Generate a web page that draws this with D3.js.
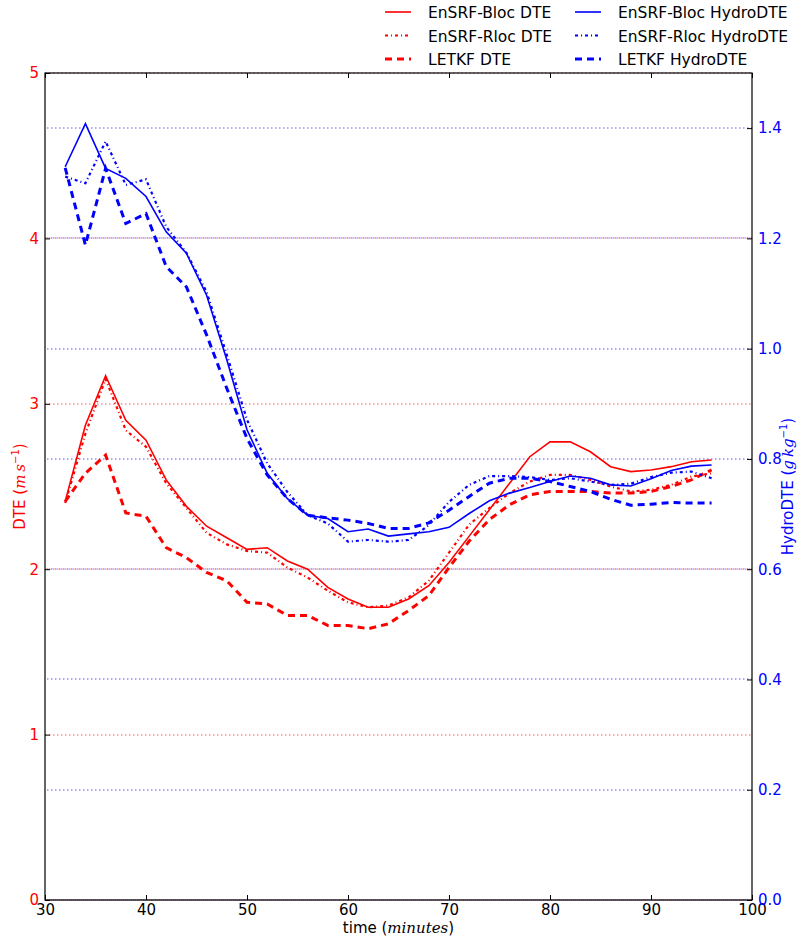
<!DOCTYPE html>
<html>
<head>
<meta charset="utf-8">
<script src="https://cdn.jsdelivr.net/npm/d3@7"></script>
<style>
  body { margin: 0; background: #fff; }
  text { font-family: "DejaVu Sans", sans-serif; }
</style>
</head>
<body>
<div id="container"></div>
<script>
// time in minutes
const times = [32, 34, 36, 38, 40, 42, 44, 46, 48, 50, 52, 54, 56, 58, 60, 62, 64,
               66, 68, 70, 72, 74, 76, 78, 80, 82, 84, 86, 88, 90, 92, 94, 96];

// DTE (m s^-1), left axis
const blocDTE = [2.41, 2.87, 3.17, 2.90, 2.78, 2.54, 2.38, 2.26, 2.19, 2.12, 2.13, 2.05, 2.00, 1.89, 1.82, 1.77, 1.77,
                 1.82, 1.90, 2.04, 2.20, 2.36, 2.52, 2.68, 2.77, 2.77, 2.71, 2.62, 2.59, 2.60, 2.62, 2.65, 2.66];
const rlocDTE = [2.40, 2.82, 3.15, 2.84, 2.74, 2.52, 2.37, 2.22, 2.15, 2.11, 2.10, 2.01, 1.95, 1.87, 1.80, 1.77, 1.78,
                 1.83, 1.93, 2.10, 2.27, 2.37, 2.46, 2.53, 2.57, 2.57, 2.54, 2.50, 2.47, 2.48, 2.51, 2.56, 2.58];
const letkfDTE = [2.41, 2.58, 2.69, 2.34, 2.32, 2.13, 2.07, 1.98, 1.93, 1.80, 1.79, 1.72, 1.72, 1.66, 1.66, 1.64, 1.67,
                  1.75, 1.84, 2.01, 2.17, 2.30, 2.39, 2.45, 2.47, 2.47, 2.47, 2.46, 2.46, 2.47, 2.50, 2.54, 2.60];

// HydroDTE (g kg^-1), right axis
const blocHydro = [1.330, 1.408, 1.327, 1.309, 1.276, 1.212, 1.173, 1.097, 0.980, 0.853, 0.774, 0.728, 0.698, 0.692, 0.668, 0.673, 0.660,
                   0.664, 0.668, 0.676, 0.701, 0.724, 0.738, 0.748, 0.759, 0.769, 0.765, 0.753, 0.751, 0.764, 0.779, 0.787, 0.789];
const rlocHydro = [1.312, 1.300, 1.376, 1.297, 1.307, 1.221, 1.174, 1.103, 0.989, 0.871, 0.792, 0.740, 0.698, 0.683, 0.650, 0.653, 0.650,
                   0.653, 0.680, 0.722, 0.753, 0.769, 0.769, 0.767, 0.762, 0.765, 0.759, 0.753, 0.755, 0.767, 0.775, 0.777, 0.765];
const letkfHydro = [1.328, 1.188, 1.327, 1.227, 1.245, 1.149, 1.112, 1.025, 0.928, 0.837, 0.771, 0.728, 0.698, 0.693, 0.689, 0.683, 0.674,
                    0.674, 0.684, 0.707, 0.732, 0.756, 0.765, 0.765, 0.759, 0.750, 0.741, 0.727, 0.716, 0.718, 0.721, 0.720, 0.720];

const xTicks = [30, 40, 50, 60, 70, 80, 90, 100];
const leftTicks = [0, 1, 2, 3, 4, 5];
const rightTicks = [0.0, 0.2, 0.4, 0.6, 0.8, 1.0, 1.2, 1.4];

const width = 800, height = 936;
const margin = { top: 73, right: 48, bottom: 36, left: 45 };

const svg = d3.select("#container").append("svg")
    .attr("width", width)
    .attr("height", height);

const x = d3.scaleLinear().domain([30, 100]).range([margin.left, width - margin.right]);
const yL = d3.scaleLinear().domain([0, 5]).range([height - margin.bottom, margin.top]);
const yR = d3.scaleLinear().domain([0, 1.5]).range([height - margin.bottom, margin.top]);

// grid lines (dotted), red for left axis, blue for right axis
function drawGrid(ticks, scale, color, offset) {
    svg.append("g")
        .selectAll("line")
        .data(ticks)
        .join("line")
        .attr("x1", margin.left).attr("x2", width - margin.right)
        .attr("y1", d => Math.round(scale(d))).attr("y2", d => Math.round(scale(d)))
        .attr("stroke", color).attr("stroke-width", 1.1)
        .attr("stroke-opacity", 0.75)
        .attr("stroke-dasharray", "1.5,2.5").attr("stroke-dashoffset", offset);
}
drawGrid(leftTicks, yL, "#ff2020", 0);
drawGrid(rightTicks, yR, "#2020ff", 2);

// series
const series = [
    { name: "EnSRF-Bloc DTE", values: blocDTE, y: yL, color: "red", width: 1.6, dash: null },
    { name: "EnSRF-Rloc DTE", values: rlocDTE, y: yL, color: "red", width: 2.2, dash: "3,3,1,3" },
    { name: "LETKF DTE", values: letkfDTE, y: yL, color: "red", width: 3, dash: "7,5" },
    { name: "EnSRF-Bloc HydroDTE", values: blocHydro, y: yR, color: "blue", width: 1.6, dash: null },
    { name: "EnSRF-Rloc HydroDTE", values: rlocHydro, y: yR, color: "blue", width: 2.2, dash: "3,3,1,3" },
    { name: "LETKF HydroDTE", values: letkfHydro, y: yR, color: "blue", width: 3, dash: "7,5" }
];

series.forEach(s => {
    const line = d3.line()
        .x((d, i) => x(times[i]))
        .y(d => s.y(d));
    svg.append("path")
        .datum(s.values)
        .attr("fill", "none")
        .attr("stroke", s.color)
        .attr("stroke-width", s.width)
        .attr("stroke-dasharray", s.dash)
        .attr("d", line);
});

// frame
svg.append("rect")
    .attr("x", margin.left).attr("y", margin.top)
    .attr("width", width - margin.left - margin.right)
    .attr("height", height - margin.top - margin.bottom)
    .attr("fill", "none").attr("stroke", "#000").attr("stroke-width", 1.2);

// axes with inward ticks
const xAxis = svg.append("g")
    .attr("transform", `translate(0,${height - margin.bottom})`)
    .call(d3.axisBottom(x).tickValues(xTicks).tickSize(-5).tickPadding(4).tickFormat(d3.format("d")));
const xTop = svg.append("g")
    .attr("transform", `translate(0,${margin.top})`)
    .call(d3.axisTop(x).tickValues(xTicks).tickSize(-5).tickFormat(""));
const yLeftAxis = svg.append("g")
    .attr("transform", `translate(${margin.left},0)`)
    .call(d3.axisLeft(yL).tickValues(leftTicks).tickSize(-5).tickPadding(6).tickFormat(d3.format("d")));
const yRightAxis = svg.append("g")
    .attr("transform", `translate(${width - margin.right},0)`)
    .call(d3.axisRight(yR).tickValues(rightTicks).tickSize(-5).tickPadding(6).tickFormat(d3.format(".1f")));

[xAxis, xTop, yLeftAxis, yRightAxis].forEach(g => {
    g.select(".domain").remove();
    g.selectAll("text").style("font-size", "15px").attr("font-family", "DejaVu Sans");
});
xAxis.selectAll("text").attr("fill", "#000");
yLeftAxis.selectAll("text").attr("fill", "red");
yRightAxis.selectAll("text").attr("fill", "blue");

// axis titles
const xTitle = svg.append("text")
    .attr("x", (margin.left + width - margin.right) / 2)
    .attr("y", 933)
    .attr("text-anchor", "middle")
    .style("font-size", "15px")
    .attr("fill", "#000");
xTitle.append("tspan").text("time (");
xTitle.append("tspan").attr("font-family", "DejaVu Serif").attr("font-style", "italic").text("minutes");
xTitle.append("tspan").text(")");

const yMid = (margin.top + height - margin.bottom) / 2;
const lTitle = svg.append("text")
    .attr("transform", `translate(25,${yMid}) rotate(-90)`)
    .attr("text-anchor", "middle")
    .style("font-size", "15px")
    .attr("fill", "red");
lTitle.append("tspan").text("DTE (");
lTitle.append("tspan").attr("font-family", "DejaVu Serif").attr("font-style", "italic").text("m\u2009s");
lTitle.append("tspan").attr("dy", -6).style("font-size", "10px").text("\u22121");
lTitle.append("tspan").attr("dy", 6).text(")");

const rTitle = svg.append("text")
    .attr("transform", `translate(793,${yMid}) rotate(-90)`)
    .attr("text-anchor", "middle")
    .style("font-size", "15px")
    .attr("fill", "blue");
rTitle.append("tspan").text("HydroDTE (");
rTitle.append("tspan").attr("font-family", "DejaVu Serif").attr("font-style", "italic").text("g\u2009kg");
rTitle.append("tspan").attr("dy", -6).style("font-size", "10px").text("\u22121");
rTitle.append("tspan").attr("dy", 6).text(")");

// legend, two columns above the plot
const legend = svg.append("g");
series.forEach((s, i) => {
    const col = Math.floor(i / 3), row = i % 3;
    const lx = col === 0 ? 385 : 575;
    const ly = 12 + row * 23.5;
    legend.append("line")
        .attr("x1", lx).attr("x2", lx + 26)
        .attr("y1", ly).attr("y2", ly)
        .attr("stroke", s.color)
        .attr("stroke-width", s.width)
        .attr("stroke-dasharray", s.dash);
    legend.append("text")
        .attr("x", lx + 43).attr("y", ly + 6)
        .style("font-size", "15.5px")
        .attr("fill", "#000")
        .text(s.name);
});
</script>
</body>
</html>
